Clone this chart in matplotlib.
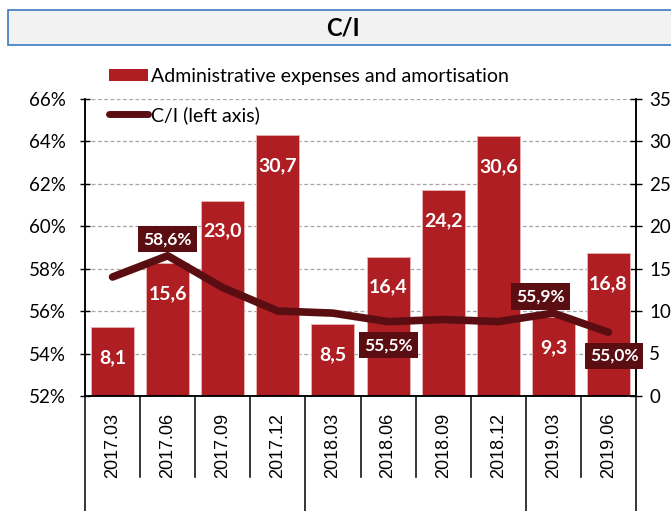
import matplotlib
matplotlib.use("Agg")
import matplotlib.pyplot as plt
import matplotlib.transforms as mtransforms
from matplotlib.patches import Rectangle, Patch
from matplotlib.lines import Line2D
import numpy as np

# ---- data ----
categories = ["2017.03", "2017.06", "2017.09", "2017.12", "2018.03",
              "2018.06", "2018.09", "2018.12", "2019.03", "2019.06"]
admin_expenses = [8.1, 15.6, 23.0, 30.7, 8.5, 16.4, 24.2, 30.6, 9.3, 16.8]
ci_ratio = [57.6, 58.6, 57.1, 56.0, 55.9, 55.5, 55.6, 55.5, 55.9, 55.0]
ci_labelled = [1, 5, 8, 9]           # points that carry a label
ci_label_side = ["above", "below", "above", "below"]
year_group_sizes = [4, 4, 2]
left_ticks = [52, 54, 56, 58, 60, 62, 64, 66]
right_ticks = [0, 5, 10, 15, 20, 25, 30, 35]
title = "C/I"
legend_labels = ["Administrative expenses and amortisation", "C/I (left axis)"]

# ---- style ----
BAR = "#AF1E23"
LINE = "#5A0E12"
FONT = "Lato"
plt.rcParams["font.family"] = [FONT, "DejaVu Sans"]

W, H = 671, 511
fig = plt.figure(figsize=(W / 100, H / 100), dpi=100)
L, R, T, B = 85, 636, 98.5, 396
ax2 = fig.add_axes([L / W, 1 - B / H, (R - L) / W, (B - T) / H])
ax = ax2.twinx()
ax.set_zorder(ax2.get_zorder() + 1)
ax.patch.set_visible(False)

x = np.arange(len(categories))

# bars (right axis)
ax2.bar(x, admin_expenses, width=0.78, color=BAR, edgecolor="#E8B4B5",
        linewidth=0.6, zorder=2)
ax2.set_ylim(0, 35)
ax2.set_yticks(right_ticks)
ax2.yaxis.grid(True, linestyle=(0, (3, 2)), color="#A6A6A6", linewidth=0.9)
ax2.set_axisbelow(True)
for xi, v in zip(x, admin_expenses):
    ax2.annotate(f"{v:.1f}".replace(".", ","), (xi, v), xytext=(0, -22),
                 textcoords="offset points", ha="center", va="center",
                 color="white", fontsize=14, fontweight="bold", zorder=3)

# line (left axis)
ax.plot(x, ci_ratio, color=LINE, linewidth=5.5, solid_capstyle="round",
        solid_joinstyle="round", zorder=4)
ax.set_ylim(52, 66)
for i, side in zip(ci_labelled, ci_label_side):
    dy = 12 if side == "above" else -17
    dx = -9 if i == 8 else (4 if i == 9 else 0)
    ax.annotate(f"{ci_ratio[i]:.1f}%".replace(".", ","), (x[i], ci_ratio[i]),
                xytext=(dx, dy), textcoords="offset points", ha="center",
                va="center", color="white", fontsize=12.5, fontweight="bold",
                bbox=dict(boxstyle="square,pad=0.3", fc=LINE, ec="none"),
                zorder=5)

# axes: ticks / spines
ax.yaxis.tick_left()
ax.set_yticks(left_ticks)
ax.set_yticklabels([f"{t}%" for t in left_ticks])
ax2.yaxis.tick_right()
ax2.set_yticklabels([str(t) for t in right_ticks])
ax.tick_params(axis="y", direction="inout", length=7, width=1, labelsize=13.5,
               pad=10, colors="black")
ax2.tick_params(axis="y", direction="inout", length=9, width=1, labelsize=13.5,
                pad=5)
for a in (ax, ax2):
    a.spines["top"].set_visible(False)
    for s in ("left", "right", "bottom"):
        a.spines[s].set_linewidth(1.1)

ax2.set_xlim(-0.5, len(categories) - 0.5)
ax2.set_xticks(x)
ax2.set_xticklabels(categories, rotation=90, fontsize=13,
                    family=["Liberation Sans"], va="top")
ax2.tick_params(axis="x", length=0, pad=12)

# category separators below the axis
trans = mtransforms.blended_transform_factory(ax2.transData, ax2.transAxes)
bounds = np.arange(len(categories) + 1) - 0.5
group_edges = np.concatenate([[0], np.cumsum(year_group_sizes)]) - 0.5
for b in bounds:
    long = np.any(np.isclose(group_edges, b))
    ax2.add_line(Line2D([b, b], [0, -1.0 if long else -0.272], transform=trans,
                        color="black", linewidth=1.1, clip_on=False))

# title box
fig.patches.append(Rectangle((8 / W, 1 - 45 / H), 700 / W, 35 / H,
                             transform=fig.transFigure, facecolor="#F2F2F2",
                             edgecolor="#3A7CC0", linewidth=1.2))
fig.text(343 / W, 1 - 28 / H, title, ha="center", va="center", fontsize=17,
         fontweight="bold")

# legend
handles = [Patch(facecolor=BAR, edgecolor="none"),
           Line2D([0], [0], color=LINE, linewidth=5, solid_capstyle="round")]
fig.legend(handles, legend_labels, loc="upper left",
           bbox_to_anchor=(95 / W, 1 - 54 / H), frameon=False, fontsize=14,
           handlelength=2.0, handleheight=0.6, handletextpad=0.2,
           labelspacing=1.1, borderpad=0.2)

fig.savefig("out.png", dpi=100)
